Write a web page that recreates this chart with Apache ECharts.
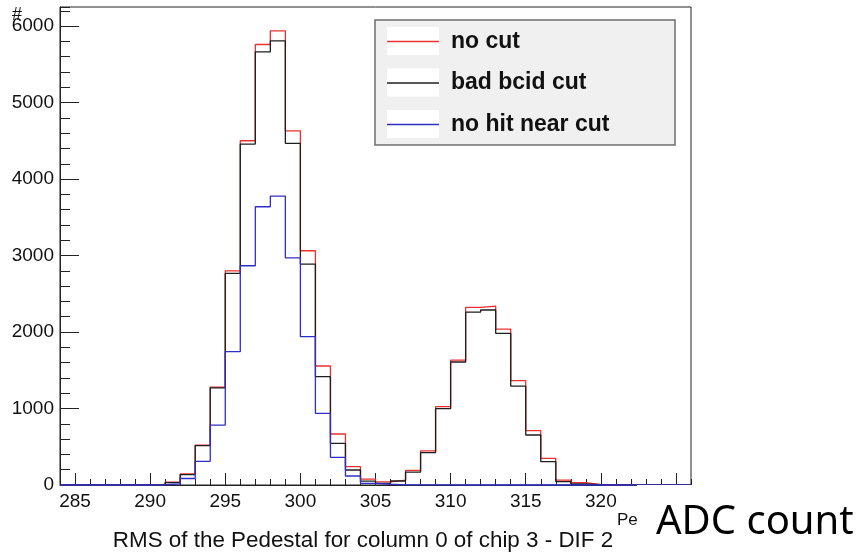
<!DOCTYPE html>
<html>
<head>
<meta charset="utf-8">
<script src="https://cdn.jsdelivr.net/npm/echarts@6/dist/echarts.min.js"></script>
<style>
html,body{margin:0;padding:0;background:#fff;}
#chart{width:864px;height:557px;}
</style>
</head>
<body>
<div id="chart"></div>
<script>
// Bin lower edges (bin width 1 ADC count)
const binStarts = [284,285,286,287,288,289,290,291,292,293,294,295,296,297,298,299,300,301,302,303,304,305,306,307,308,309,310,311,312,313,314,315,316,317,318,319,320,321,322,323,324,325];
const binEnd = 326;
const noCut     = [0,0,0,0,0,0,6,38,145,522,1280,2801,4501,5760,5939,4631,3063,1556,667,240,78,40,65,190,447,1024,1634,2322,2340,2039,1364,710,349,65,30,5,0,0,0,0,0,0];
const badBcid   = [0,0,0,0,0,0,5,32,135,514,1270,2767,4458,5664,5808,4467,2889,1416,545,196,50,22,52,168,423,998,1608,2261,2288,1983,1294,654,305,44,13,3,0,0,0,0,0,0];
const noHitNear = [0,0,0,0,0,0,3,15,85,310,784,1743,2867,3638,3778,2971,1939,937,362,118,22,10,2,2,1,1,0,0,0,0,0,0,0,0,0,0,0,0,0,0,0,0];
const seriesNames = ['no cut','bad bcid cut','no hit near cut'];
const seriesColors = ['#ec3030','#1e1e1e','#2f2fc8'];
const xMajorTicks = [285,290,295,300,305,310,315,320,325];
const xTickLabels = [285,290,295,300,305,310,315,320];
const yTickLabels = [0,1000,2000,3000,4000,5000,6000];

function histData(vals){
  const d = binStarts.map((x,i)=>[x, vals[i]]);
  d.push([binEnd, vals[vals.length-1]]);
  return d;
}

const chart = echarts.init(document.getElementById('chart'), null, {renderer:'canvas'});
const axisFont = {fontFamily:'Liberation Sans', fontSize:19, color:'#111'};
const tickLine = {color:'#222', width:1};
const legendRowCenters = [41.5, 83, 124.5];

const option = {
  animation:false,
  backgroundColor:'#fff',
  grid:{left:60, right:173, top:7, bottom:72, show:true, borderColor:'#222', borderWidth:1, backgroundColor:'#fff'},
  xAxis:[
    {type:'value', min:284, max:326, position:'bottom',
     axisLine:{show:true, onZero:false, lineStyle:{color:'#222', width:1}},
     axisTick:{show:true, inside:true, length:12, customValues:xMajorTicks, lineStyle:tickLine},
     axisLabel:{show:true, margin:7, customValues:xTickLabels, formatter:(v)=>String(v), ...axisFont},
     splitLine:{show:false},
     name:'RMS of the Pedestal for column 0 of chip 3 - DIF 2',
     nameLocation:'middle', nameGap:45,
     nameTextStyle:{fontFamily:'Liberation Sans', fontSize:22.4, color:'#111', padding:[0,25,0,0]}
    },
    {type:'value', min:284, max:326, interval:1, position:'bottom',
     axisLine:{show:false},
     axisTick:{show:true, inside:true, length:6, lineStyle:tickLine},
     axisLabel:{show:false}, splitLine:{show:false}}
  ],
  yAxis:[
    {type:'value', min:0, max:6250, position:'left',
     axisLine:{show:true, onZero:false, lineStyle:{color:'#222', width:1}},
     axisTick:{show:true, inside:true, length:19, customValues:yTickLabels, lineStyle:tickLine},
     axisLabel:{show:true, margin:6, customValues:yTickLabels, formatter:(v)=>String(v), ...axisFont},
     splitLine:{show:false}},
    {type:'value', min:0, max:6250, interval:200, position:'left',
     axisLine:{show:false},
     axisTick:{show:true, inside:true, length:10, lineStyle:tickLine},
     axisLabel:{show:false}, splitLine:{show:false}}
  ],
  legend: seriesNames.map((n,i)=>({
    orient:'vertical', left:387, top:legendRowCenters[i]-12.5, z:6,
    itemWidth:52, itemHeight:1.4, symbolKeepAspect:false,
    data:[{name:n, icon:'rect'}],
    textStyle:{fontFamily:'Liberation Sans', fontSize:23, lineHeight:25, fontWeight:'bold', color:'#111', padding:[0,0,0,7]},
    backgroundColor:'transparent', padding:0
  })),
  series: [noCut, badBcid, noHitNear].map((vals,i)=>({
    name:seriesNames[i], type:'line', step:'end', symbol:'none', clip:false, z:2+i,
    lineStyle:{color:seriesColors[i], width:1.3}, itemStyle:{color:seriesColors[i]},
    data:histData(vals)
  })),
  graphic:{elements:[
    {type:'rect', z:5, shape:{x:375, y:20, width:300, height:125}, style:{fill:'#f0f0f0', stroke:'#6e6e6e', lineWidth:1.5}},
    {type:'rect', z:5, shape:{x:387, y:27, width:52, height:28}, style:{fill:'#fff'}},
    {type:'rect', z:5, shape:{x:387, y:68.5, width:52, height:28}, style:{fill:'#fff'}},
    {type:'rect', z:5, shape:{x:387, y:110, width:52, height:28}, style:{fill:'#fff'}},
    {type:'text', z:5, style:{x:12, y:15, text:'#', font:'18px "Liberation Sans"', fill:'#111', verticalAlign:'middle'}},
    {type:'text', z:5, style:{x:617, y:520, text:'Pedestal', font:'17px "Liberation Sans"', fill:'#111', verticalAlign:'middle'}},
    {type:'rect', z:20, shape:{x:637, y:485, width:227, height:72}, style:{fill:'#fff'}},
    {type:'text', z:21, style:{x:656, y:523, text:'ADC count', font:'40px "Noto Sans"', fill:'#000', verticalAlign:'middle'}}
  ]}
};
chart.setOption(option);
</script>
</body>
</html>
